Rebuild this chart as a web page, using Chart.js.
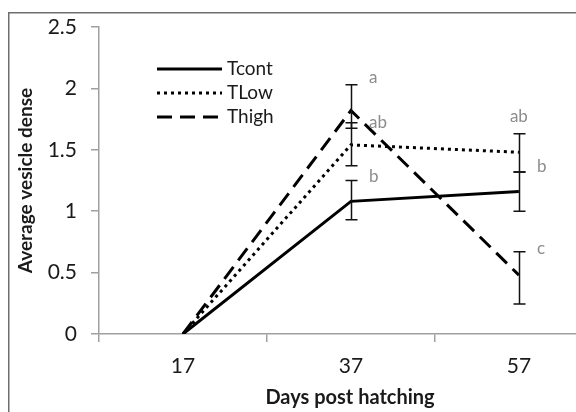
<!DOCTYPE html>
<html>
<head>
<meta charset="utf-8">
<script src="https://cdn.jsdelivr.net/npm/chart.js@4/dist/chart.umd.min.js"></script>
<style>
  html, body { margin: 0; padding: 0; background: #fff; }
  #wrap { width: 576px; height: 412px; position: relative; }
</style>
</head>
<body>
<div id="wrap"><canvas id="c" width="576" height="412"></canvas></div>
<script>
// days post hatching
const days = [17, 37, 57]
const yTicks = [0, 0.5, 1, 1.5, 2, 2.5]

// series means
const tcont = [0, 1.08, 1.16]
const tlow = [0, 1.54, 1.48]
const thigh = [0, 1.82, 0.48]

// error bars (upper, lower)
const tcontUp = [0, 0.17, 0.16]
const tcontDown = [0, 0.15, 0.16]
const tlowUp = [0, 0.18, 0.15]
const tlowDown = [0, 0.17, 0.16]
const thighUp = [0, 0.21, 0.19]
const thighDown = [0, 0.145, 0.235]

// significance letters: day, value height, text
const letterDays = [37, 37, 37, 57, 57, 57]
const letterVals = [2.085, 1.72, 1.28, 1.77, 1.36, 0.70]
const letterText = ["a", "ab", "b", "ab", "b", "c"]

const FONT = "Lato, 'Open Sans', sans-serif"
const AXIS = "#a0a0a0"
const TEXT = "#1a1a1a"

const pts = arr => days.map((d, i) => ({x: d, y: arr[i]}))

const series = [
  {label: "Tcont", data: tcont, up: tcontUp, down: tcontDown, dash: []},
  {label: "TLow", data: tlow, up: tlowUp, down: tlowDown, dash: [3, 4]},
  {label: "Thigh", data: thigh, up: thighUp, down: thighDown, dash: [15, 8]}
]

const extras = {
  id: "extras",
  beforeDraw(chart) {
    const c = chart.ctx
    c.save()
    c.fillStyle = "#fff"
    c.fillRect(0, 0, chart.width, chart.height)
    c.strokeStyle = "#6e6e6e"
    c.lineWidth = 1.5
    c.beginPath()
    c.moveTo(8.75, chart.height)
    c.lineTo(8.75, 12.75)
    c.lineTo(chart.width, 12.75)
    c.stroke()
    c.restore()
  },
  afterDatasetsDraw(chart) {
    const c = chart.ctx
    const xs = chart.scales.x, ys = chart.scales.y
    c.save()
    // error bars
    c.strokeStyle = "#111"
    c.lineWidth = 1.5
    series.forEach(s => {
      days.forEach((d, i) => {
        if (!s.up[i] && !s.down[i]) return
        const x = Math.round(xs.getPixelForValue(d)) + 0.5
        const y1 = ys.getPixelForValue(s.data[i] + s.up[i])
        const y2 = ys.getPixelForValue(s.data[i] - s.down[i])
        c.beginPath()
        c.moveTo(x, y1); c.lineTo(x, y2)
        c.moveTo(x - 6, y1); c.lineTo(x + 6, y1)
        c.moveTo(x - 6, y2); c.lineTo(x + 6, y2)
        c.stroke()
      })
    })
    // letters
    c.fillStyle = "#8c8c8c"
    c.font = "17px " + FONT
    c.textBaseline = "middle"
    letterText.forEach((t, i) => {
      const x = xs.getPixelForValue(letterDays[i])
      const y = ys.getPixelForValue(letterVals[i])
      if (letterDays[i] === 57 && t === "ab") {
        c.textAlign = "center"
        c.fillText(t, x, y)
      } else {
        c.textAlign = "left"
        c.fillText(t, x + 18, y)
      }
    })
    // legend
    c.lineWidth = 3
    c.strokeStyle = "#000"
    c.fillStyle = TEXT
    c.font = "19px " + FONT
    c.textAlign = "left"
    series.forEach((s, i) => {
      const y = 69 + i * 24
      c.setLineDash(s.dash)
      c.beginPath()
      c.moveTo(157, y); c.lineTo(222, y)
      c.stroke()
      c.fillText(s.label, 227, y)
    })
    c.setLineDash([])
    // x title
    c.fillStyle = TEXT
    c.font = "bold 20px " + FONT
    c.textAlign = "center"
    c.fillText("Days post hatching", 350, 398)
    c.restore()
  }
}

new Chart(document.getElementById("c"), {
  type: "line",
  data: {
    datasets: series.map(s => ({
      label: s.label,
      data: pts(s.data),
      borderColor: "#000",
      borderWidth: 3,
      borderDash: s.dash,
      pointRadius: 0,
      tension: 0,
      fill: false
    }))
  },
  options: {
    responsive: false,
    animation: false,
    layout: {padding: {top: 27, left: 0, right: 0, bottom: 0}},
    plugins: {legend: {display: false}, tooltip: {enabled: false}},
    scales: {
      x: {
        type: "linear",
        min: 7,
        max: 63.8,
        afterBuildTicks: s => { s.ticks = [7, 17, 27, 37, 47, 57].map(v => ({value: v})) },
        afterFit: s => { s.height = 78 },
        border: {color: AXIS, width: 1.5},
        grid: {
          drawOnChartArea: false,
          tickLength: 8,
          lineWidth: 1.5,
          color: ctx => (ctx.tick && days.includes(ctx.tick.value)) ? "rgba(0,0,0,0)" : AXIS
        },
        ticks: {
          padding: 12,
          color: TEXT,
          font: {family: FONT, size: 21},
          maxRotation: 0,
          autoSkip: false,
          callback: v => days.includes(v) ? String(v) : ""
        }
      },
      y: {
        min: 0,
        max: 2.5,
        afterBuildTicks: s => { s.ticks = yTicks.map(v => ({value: v})) },
        afterFit: s => { s.width = 99 },
        border: {color: AXIS, width: 1.5},
        grid: {drawOnChartArea: false, tickLength: 8, lineWidth: 1.5, color: AXIS},
        ticks: {
          padding: 14,
          color: TEXT,
          font: {family: FONT, size: 21},
          callback: v => String(v)
        },
        title: {
          display: true,
          text: "Average vesicle dense",
          color: TEXT,
          font: {family: FONT, size: 19, weight: "bold"},
          padding: {top: 14, bottom: 0}
        }
      }
    }
  },
  plugins: [extras]
})
</script>
</body>
</html>
